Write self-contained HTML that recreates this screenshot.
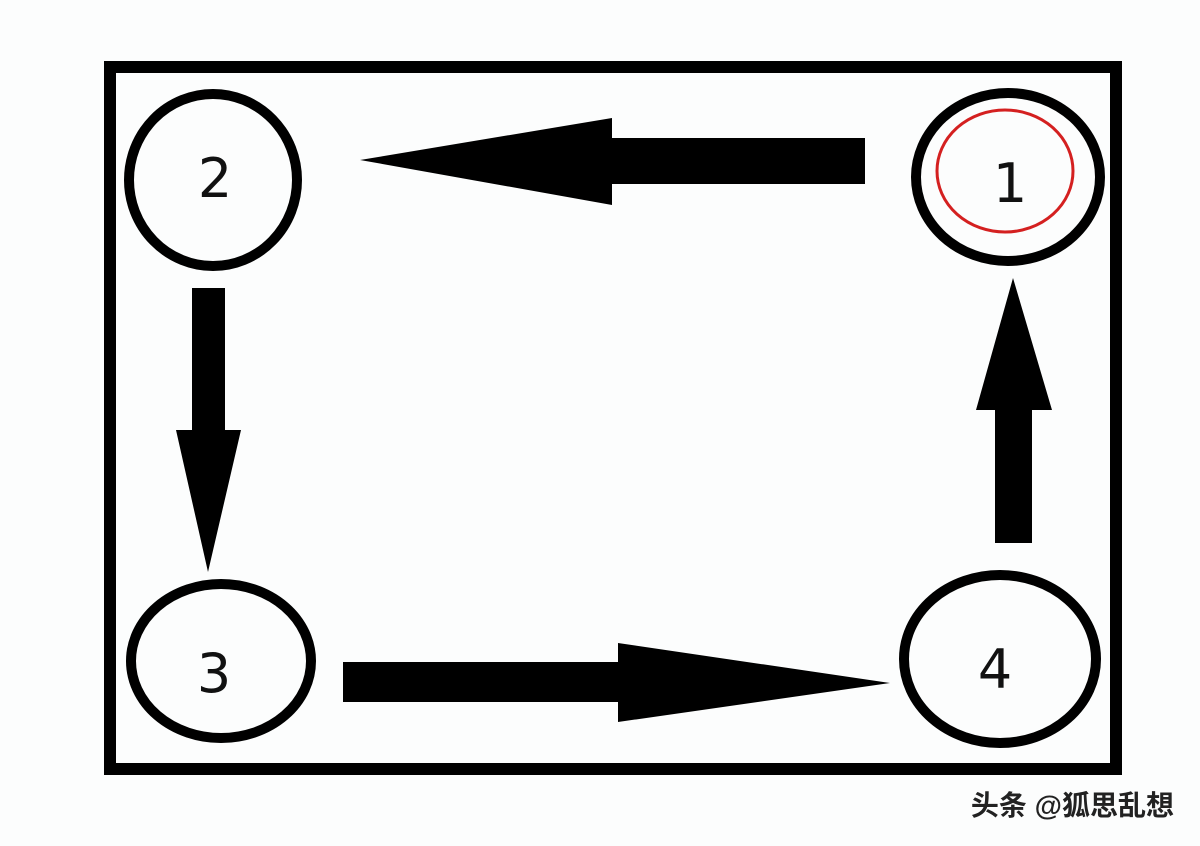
<!DOCTYPE html>
<html><head><style>
html,body{margin:0;padding:0;background:#fcfcfc;}
</style></head><body>
<svg width="1200" height="846" xmlns="http://www.w3.org/2000/svg" style="display:block">
<rect width="1200" height="846" fill="#fcfdfd"/>
<rect x="110" y="67" width="1006" height="702" fill="none" stroke="#000" stroke-width="12"/>
<g fill="none" stroke="#000" stroke-width="10">
<ellipse cx="213" cy="180" rx="84" ry="86"/>
<ellipse cx="1008" cy="177" rx="92" ry="84"/>
<ellipse cx="221" cy="661" rx="90" ry="77"/>
<ellipse cx="1000" cy="659" rx="96" ry="84"/>
</g>
<ellipse cx="1005" cy="171" rx="68" ry="61" fill="none" stroke="#d42020" stroke-width="3"/>
<g fill="#000">
<polygon points="865,138 612,138 612,118 360,160 612,205 612,184 865,184"/>
<polygon points="192,288 225,288 225,430 241,430 208,572 176,430 192,430"/>
<polygon points="343,662 618,662 618,643 890,683 618,722 618,702 343,702"/>
<polygon points="995,543 1032,543 1032,410 1052,410 1013,278 976,410 995,410"/>
</g>
<g font-family="DejaVu Sans, sans-serif" font-size="54" text-anchor="middle" fill="#111">
<text x="215" y="197">2</text>
<text x="1010" y="202">1</text>
<text x="214" y="692">3</text>
<text x="995" y="688">4</text>
</g>
<text x="1174" y="815" text-anchor="end" font-family="Liberation Sans, Noto Sans CJK SC, sans-serif" font-size="28" font-weight="bold" fill="#222">头条 @狐思乱想</text>
</svg>
</body></html>
